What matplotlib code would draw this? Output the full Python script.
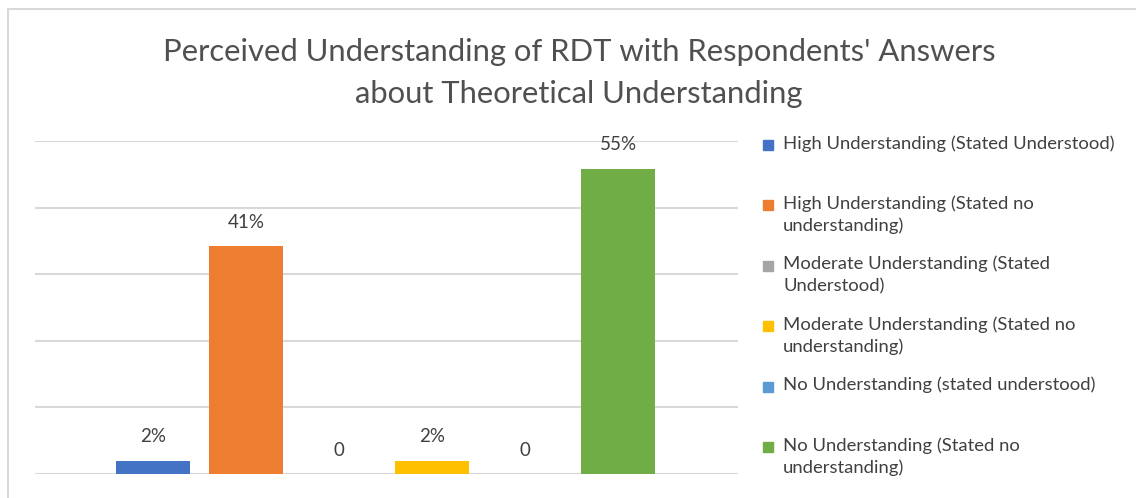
import matplotlib
matplotlib.use('Agg')
import matplotlib.pyplot as plt
from matplotlib.patches import Rectangle

# data
series = ['High Understanding (Stated Understood)',
          'High Understanding (Stated no\nunderstanding)',
          'Moderate Understanding (Stated\nUnderstood)',
          'Moderate Understanding (Stated no\nunderstanding)',
          'No Understanding (stated understood)',
          'No Understanding (Stated no\nunderstanding)']
values = [0.024, 0.41, 0.0, 0.024, 0.0, 0.55]
value_labels = ['2%', '41%', '0', '2%', '0', '55%']
colors = ['#4472C4', '#ED7D31', '#A5A5A5', '#FFC000', '#5B9BD5', '#70AD47']
grid_ticks = [0, 0.12, 0.24, 0.36, 0.48, 0.6]

W, H = 1136, 498
plt.rcParams['font.family'] = ['Lato', 'DejaVu Sans']

fig = plt.figure(figsize=(W / 100, H / 100), dpi=100)

# outer chart frame
fig.patches.append(Rectangle((8 / W, -0.1), 1.2, (H - 9) / H + 0.1, transform=fig.transFigure,
                             fill=False, edgecolor='#d9d9d9', linewidth=1.5))

ax = fig.add_axes([35 / W, (H - 474) / H, (738 - 35) / W, (474 - 141) / H])

x = list(range(len(values)))
ax.bar(x, values, width=0.79, color=colors, zorder=3)

for xi, v, lab in zip(x, values, value_labels):
	ax.annotate(lab, (xi, v), xytext=(0, 24), textcoords='offset pixels',
	            ha='center', va='center', fontsize=13.5, color='#404040')

ax.set_xlim(-1.27, 6.29)
ax.set_ylim(0, 0.6)
ax.set_yticks(grid_ticks)
ax.yaxis.grid(True, color='#d9d9d9', linewidth=1.5, zorder=0)
ax.tick_params(left=False, bottom=False, labelleft=False, labelbottom=False)
for s in ax.spines.values():
	s.set_visible(False)

fig.text(579 / W, 1 - 52 / H, "Perceived Understanding of RDT with Respondents' Answers",
         ha='center', va='center', fontsize=22.3, color='#505050')
fig.text(579 / W, 1 - 94 / H, 'about Theoretical Understanding',
         ha='center', va='center', fontsize=22.3, color='#505050')

# legend, drawn by hand so the entries sit in equal slots like the original
y0 = 145
step = 60.4
for i, (name, c) in enumerate(zip(series, colors)):
	yc = y0 + i * step
	fig.patches.append(Rectangle((763 / W, 1 - (yc + 5) / H), 10 / W, 10 / H,
	                             transform=fig.transFigure, color=c))
	fig.text(783 / W, 1 - (yc - 10) / H, name, ha='left', va='top',
	         fontsize=13.3, color='#404040', linespacing=1.42)

plt.savefig('out.png', dpi=100)
